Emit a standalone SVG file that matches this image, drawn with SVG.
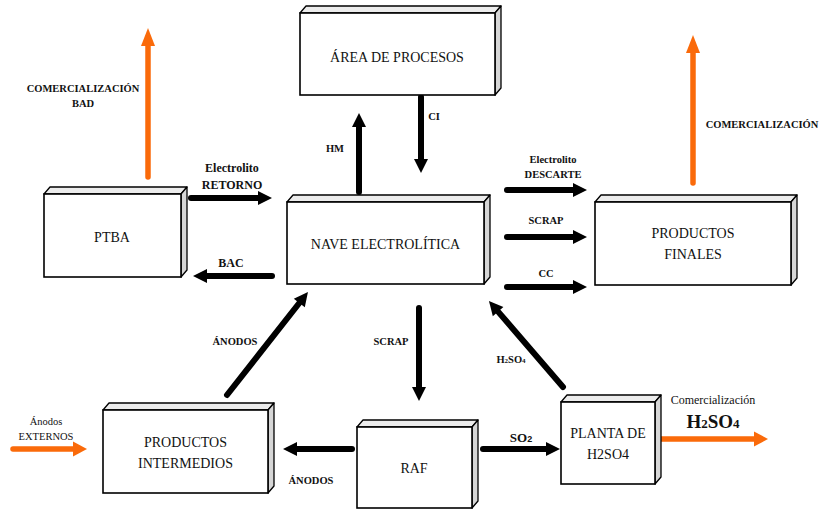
<svg xmlns="http://www.w3.org/2000/svg" width="819" height="510" viewBox="0 0 819 510">
<style>
.top{fill:#ececec;stroke:#000;stroke-width:1.3;stroke-linejoin:round}
.side{fill:#d6d6d6;stroke:#000;stroke-width:1.3;stroke-linejoin:round}
.front{fill:#fff;stroke:#000;stroke-width:1.6}
.bl{font-family:"Liberation Serif","Times New Roman",serif;font-size:14px;fill:#111;text-anchor:middle}
.lb{font-family:"Liberation Serif","Times New Roman",serif;font-weight:bold;font-size:10.5px;fill:#111;text-anchor:middle}
.lr{font-family:"Liberation Serif","Times New Roman",serif;font-size:10.5px;fill:#111;text-anchor:middle}
.k{stroke:#000;stroke-width:6;stroke-linecap:round;fill:none}
.o{stroke:#fa6a0a;stroke-width:5.5;stroke-linecap:round;fill:none}
</style>
<defs>
<marker id="ah" markerUnits="userSpaceOnUse" markerWidth="16" markerHeight="16" refX="0" refY="0" orient="auto" overflow="visible"><path d="M0,-7 L14,0 L0,7 z" fill="#000"/></marker>
<marker id="aov" markerUnits="userSpaceOnUse" markerWidth="20" markerHeight="16" refX="0" refY="0" orient="auto" overflow="visible"><path d="M0,-7 L18,0 L0,7 z" fill="#fa6a0a"/></marker>
<marker id="aoh" markerUnits="userSpaceOnUse" markerWidth="16" markerHeight="16" refX="0" refY="0" orient="auto" overflow="visible"><path d="M0,-7.5 L14,0 L0,7.5 z" fill="#fa6a0a"/></marker>
</defs>

<g id="connectors">
<line class="o" x1="148" y1="177" x2="148" y2="46" marker-end="url(#aov)"/>
<line class="o" x1="693" y1="183" x2="693" y2="53" marker-end="url(#aov)"/>
<line class="o" x1="13" y1="449" x2="73" y2="449" marker-end="url(#aoh)"/>
<line class="o" x1="657" y1="439" x2="754" y2="439" marker-end="url(#aoh)"/>
<line class="k" x1="191" y1="198" x2="258" y2="198" marker-end="url(#ah)"/>
<line class="k" x1="272" y1="276" x2="207" y2="276" marker-end="url(#ah)"/>
<line class="k" x1="359" y1="192" x2="359" y2="127" marker-end="url(#ah)"/>
<line class="k" x1="421" y1="97" x2="421" y2="159" marker-end="url(#ah)"/>
<line class="k" x1="507" y1="190" x2="573" y2="190" marker-end="url(#ah)"/>
<line class="k" x1="507" y1="237" x2="573" y2="237" marker-end="url(#ah)"/>
<line class="k" x1="507" y1="287" x2="573" y2="287" marker-end="url(#ah)"/>
<line class="k" x1="227" y1="395" x2="299.3" y2="303" marker-end="url(#ah)"/>
<line class="k" x1="419" y1="308" x2="419" y2="387" marker-end="url(#ah)"/>
<line class="k" x1="563" y1="387" x2="498.1" y2="311.6" marker-end="url(#ah)"/>
<line class="k" x1="352" y1="449" x2="297" y2="449" marker-end="url(#ah)"/>
<line class="k" x1="483" y1="449" x2="546" y2="449" marker-end="url(#ah)"/>

<text class="lb" x="83" y="92">COMERCIALIZACIÓN</text>
<text class="lb" x="83" y="107">BAD</text>
<text class="lb" x="762" y="128">COMERCIALIZACIÓN</text>
<text class="lb" x="232" y="172" style="font-size:12px">Electrolito</text>
<text class="lb" x="232" y="189" style="font-size:12px">RETORNO</text>
<text class="lb" x="231" y="267" style="font-size:12px">BAC</text>
<text class="lb" x="335" y="152">HM</text>
<text class="lb" x="434" y="120">CI</text>
<text class="lb" x="553" y="163">Electrolito</text>
<text class="lb" x="553" y="178">DESCARTE</text>
<text class="lb" x="546" y="224">SCRAP</text>
<text class="lb" x="546" y="277">CC</text>
<text class="lb" x="235" y="345">ÁNODOS</text>
<text class="lb" x="391" y="345">SCRAP</text>
<text class="lb" x="511" y="363">H<tspan style="font-size:7px">2</tspan>SO<tspan style="font-size:7px">4</tspan></text>
<text class="lb" x="311" y="484">ÁNODOS</text>
<text class="lb" x="521" y="442" style="font-size:13px">SO<tspan style="font-family:'Liberation Sans',Arial,sans-serif;font-size:9px">2</tspan></text>
<text class="lr" x="46" y="425">Ánodos</text>
<text class="lr" x="46" y="440">EXTERNOS</text>
<text class="lr" x="713" y="404" style="font-size:12px">Comercialización</text>
<text class="lb" x="713" y="428" style="font-size:19px">H<tspan style="font-size:13px">2</tspan>SO<tspan style="font-size:13px">4</tspan></text>
</g>

<g id="area-procesos">
<polygon class="top" points="300,13 306,6 501,6 495,13"/>
<polygon class="side" points="495,13 501,6 501,88 495,95"/>
<rect class="front" x="300" y="13" width="195" height="82"/>
<text class="bl" x="397" y="62">ÁREA DE PROCESOS</text>
</g>

<g id="ptba">
<polygon class="top" points="44,194 50,187 187,187 181,194"/>
<polygon class="side" points="181,194 187,187 187,270 181,277"/>
<rect class="front" x="44" y="194" width="137" height="83"/>
<text class="bl" x="112" y="242">PTBA</text>
</g>

<g id="nave-electrolitica">
<polygon class="top" points="287,202 293,195 490,195 484,202"/>
<polygon class="side" points="484,202 490,195 490,277 484,284"/>
<rect class="front" x="287" y="202" width="197" height="82"/>
<text class="bl" x="385.5" y="249">NAVE ELECTROLÍTICA</text>
</g>

<g id="productos-finales">
<polygon class="top" points="595,202 601,195 797,195 791,202"/>
<polygon class="side" points="791,202 797,195 797,278 791,285"/>
<rect class="front" x="595" y="202" width="196" height="83"/>
<text class="bl" x="693" y="238">PRODUCTOS</text>
<text class="bl" x="693" y="259">FINALES</text>
</g>

<g id="productos-intermedios">
<polygon class="top" points="103,410 109,403 274,403 268,410"/>
<polygon class="side" points="268,410 274,403 274,486 268,493"/>
<rect class="front" x="103" y="410" width="165" height="83"/>
<text class="bl" x="185.5" y="447">PRODUCTOS</text>
<text class="bl" x="185.5" y="468">INTERMEDIOS</text>
</g>

<g id="raf">
<polygon class="top" points="357,427 363,420 478,420 472,427"/>
<polygon class="side" points="472,427 478,420 478,501 472,508"/>
<rect class="front" x="357" y="427" width="115" height="81"/>
<text class="bl" x="414" y="473">RAF</text>
</g>

<g id="planta-h2so4">
<polygon class="top" points="561,402 567,395 661,395 655,402"/>
<polygon class="side" points="655,402 661,395 661,477 655,484"/>
<rect class="front" x="561" y="402" width="94" height="82"/>
<text class="bl" x="608" y="438">PLANTA DE</text>
<text class="bl" x="608" y="459">H2SO4</text>
</g>
</svg>
